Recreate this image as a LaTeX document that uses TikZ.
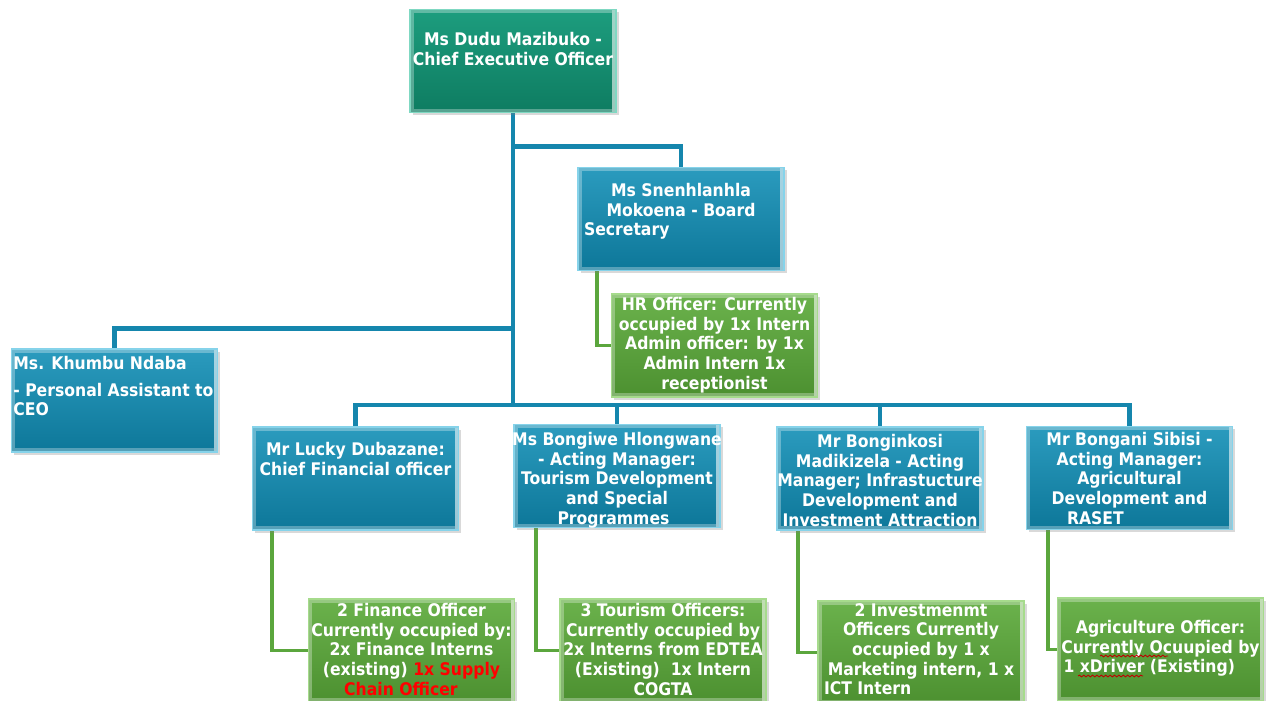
\documentclass[tikz,border=0pt]{standalone}
\usepackage{fontspec}
\setmainfont{DejaVu Sans Condensed}
\usepackage{tikz}
\usetikzlibrary{calc,positioning,shadows,backgrounds,decorations.pathmorphing}
\definecolor{tealtop}{HTML}{1D9D7E}
\definecolor{tealbot}{HTML}{0E7C61}
\definecolor{tealrim}{HTML}{7FD8C2}
\definecolor{bluetop}{HTML}{2B9BBE}
\definecolor{bluebot}{HTML}{0D7799}
\definecolor{bluerim}{HTML}{86D3EA}
\definecolor{greentop}{HTML}{6BB24C}
\definecolor{greenbot}{HTML}{4C9030}
\definecolor{greenrim}{HTML}{A6DB8C}
\definecolor{blueline}{HTML}{1586AD}
\definecolor{greenline}{HTML}{5BA63D}
\newcommand\leftrow[1]{\makebox[3.88cm][l]{#1}}

\begin{document}
\begin{tikzpicture}[x=0.02cm,y=-0.02cm,
  box/.style={rectangle,minimum width=4.12cm,minimum height=2.06cm,line width=1pt,
    drop shadow={shadow xshift=1.5pt,shadow yshift=-1.5pt,opacity=0.3},
    path picture={\draw[white,opacity=0.3,line width=4pt]
      (path picture bounding box.south west) rectangle (path picture bounding box.north east);
      \draw[white,opacity=0.4,line width=4pt]
      (path picture bounding box.south east) -- (path picture bounding box.north east);}},
  tealbox/.style={box,top color=tealtop,bottom color=tealbot,draw=tealrim},
  bluebox/.style={box,top color=bluetop,bottom color=bluebot,draw=bluerim},
  greenbox/.style={box,top color=greentop,bottom color=greenbot,draw=greenrim},
  txt/.style={anchor=north,inner sep=0pt,align=center,text=white,
    font=\bfseries\fontsize{9.9}{11.2}\selectfont},
  bline/.style={draw=blueline,line width=2.3pt},
  gline/.style={draw=greenline,line width=2.2pt},
  spell/.style={draw=red!75!black,line width=0.5pt,decorate,
    decoration={snake,amplitude=0.5pt,segment length=2.5pt}}]
\useasboundingbox (0,0) rectangle (1271,700);
% boxes
\node[tealbox] (ceo) at (513,61) {};
\node[bluebox] (sec) at (681,219) {};
\node[bluebox] (pa) at (114.5,400.5) {};
\node[greenbox] (hr) at (714.5,345.5) {};
\node[bluebox] (cfo) at (355.5,478.5) {};
\node[bluebox] (tour) at (617,476) {};
\node[bluebox] (infra) at (880,478.5) {};
\node[bluebox] (agri) at (1129.5,478) {};
\node[greenbox] (fin) at (411.5,650.5) {};
\node[greenbox] (tofc) at (663,650.5) {};
\node[greenbox] (inv) at (921,652.5) {};
\node[greenbox] (agof) at (1160.5,649.5) {};
% texts
\node[txt] (ceo-t) at (513,32) {Ms Dudu Mazibuko -\\Chief Executive Officer};
\node[txt] (sec-t) at (681,183) {Ms Snenhlanhla\\Mokoena - Board\\\leftrow{Secretary}};
\node[txt,anchor=north west,align=left] (pa-t) at (13,356) {Ms. Khumbu Ndaba\\[4pt]- Personal Assistant to\\CEO};
\node[txt] (hr-t) at (714.5,297) {HR Officer: Currently\\occupied by 1x Intern\\Admin officer: by 1x\\Admin Intern 1x\\receptionist};
\node[txt] (cfo-t) at (355.5,442) {Mr Lucky Dubazane:\\Chief Financial officer};
\node[txt] (tour-t) at (617,432) {Ms Bongiwe Hlongwane\\- Acting Manager:\\Tourism Development\\and Special\\Programmes\hspace*{4pt}};
\node[txt] (infra-t) at (880,434) {Mr Bonginkosi\\Madikizela - Acting\\Manager; Infrastucture\\Development and\\Investment Attraction};
\node[txt] (agri-t) at (1129.5,432) {Mr Bongani Sibisi -\\Acting Manager:\\Agricultural\\Development and\\\leftrow{\hspace*{0.69cm}RASET}};
\node[txt] (fin-t) at (411.5,603) {2 Finance Officer\\Currently occupied by:\\2x Finance Interns\\(existing) \textcolor{red}{1x Supply}\\\textcolor{red}{Chain Officer}\hspace*{12pt}};
\node[txt] (tofc-t) at (663,603) {3 Tourism Officers:\\Currently occupied by\\2x Interns from EDTEA\\(Existing)\ \ 1x Intern\\COGTA};
\node[txt] (inv-t) at (921,603) {2 Investmenmt\\Officers Currently\\occupied by 1 x\\Marketing intern, 1 x\\\leftrow{ICT Intern}};
\node[txt] (agof-t) at (1160.5,620) {Agriculture Officer:\\Currently Ocuupied by\\\leftrow{1 xDriver (Existing)}};
% spelling marks
\draw[spell] (1100,656) -- (1168,656);
\draw[spell] (1078,676) -- (1143,676);
% connectors
\coordinate (j1) at (513,146.5);
\coordinate (j2) at (513,328.5);
\coordinate (bus) at (513,405);
\begin{scope}[on background layer]
\draw[bline] (ceo.south) -- (bus);
\draw[bline] (j1) -| (sec.north);
\draw[bline] (j2) -| (pa.north);
\draw[bline] (bus) -| (cfo.north);
\draw[bline] (bus) -| (tour.north);
\draw[bline] (bus) -| (infra.north);
\draw[bline] (bus) -| (agri.north);
\draw[gline] ($(sec.south west)+(20,0)$) |- (hr.west);
\draw[gline] ($(cfo.south west)+(20,0)$) |- (fin.west);
\draw[gline] ($(tour.south west)+(23,0)$) |- (tofc.west);
\draw[gline] ($(infra.south west)+(22,0)$) |- (inv.west);
\draw[gline] ($(agri.south west)+(22,0)$) |- (agof.west);
\end{scope}
\end{tikzpicture}
\end{document}
